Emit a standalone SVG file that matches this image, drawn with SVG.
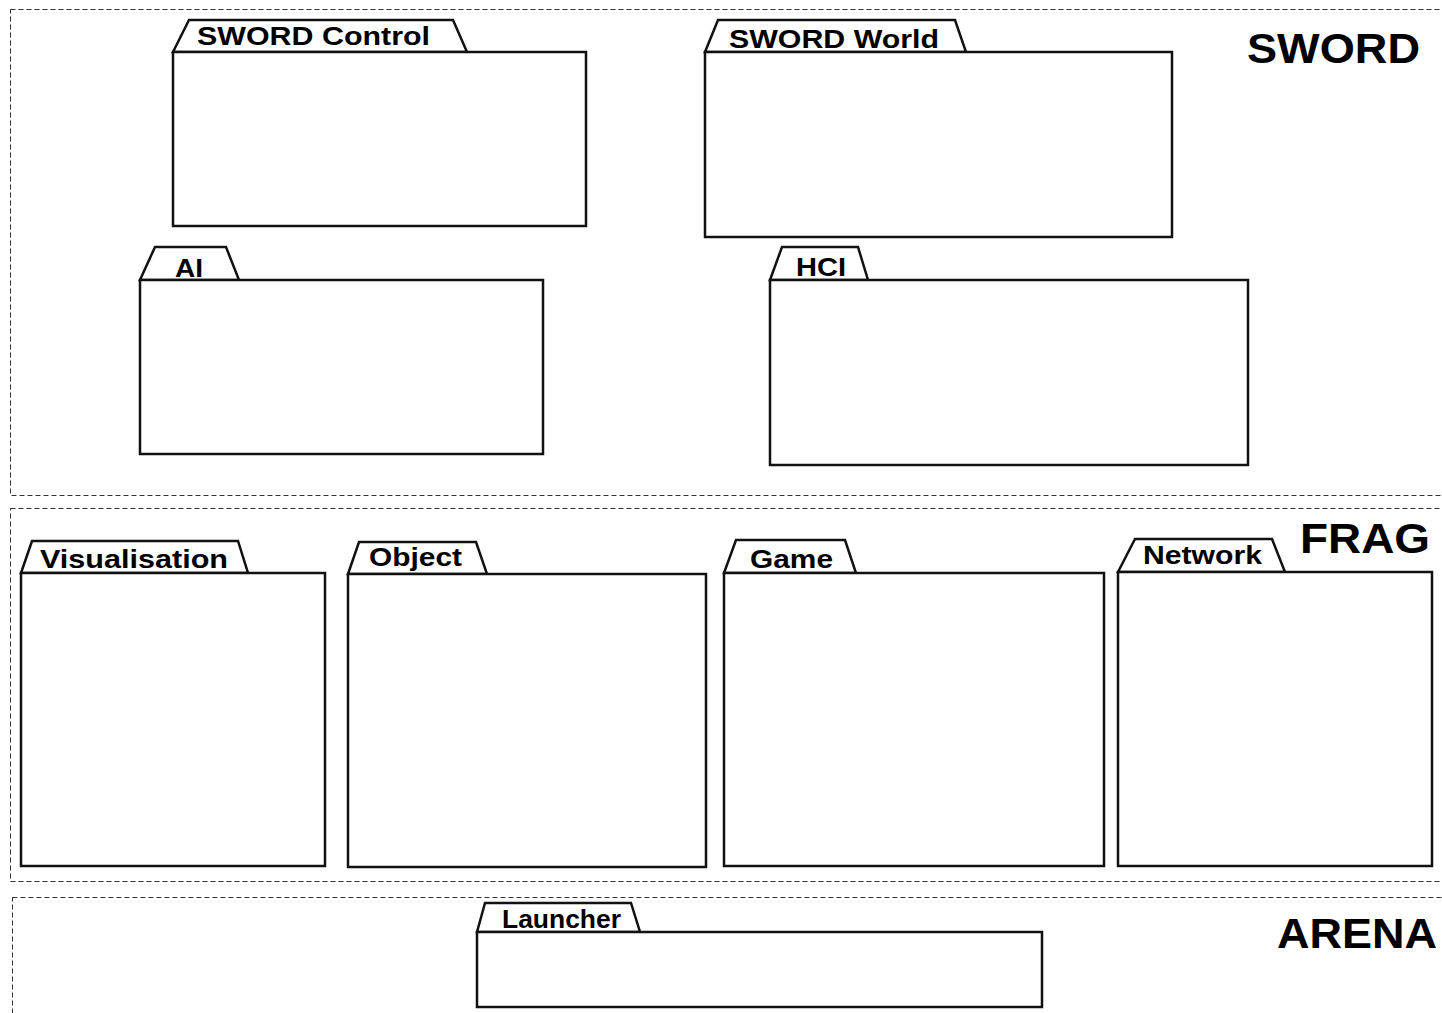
<svg xmlns="http://www.w3.org/2000/svg" width="1442" height="1013" viewBox="0 0 1442 1013">
<style>
.lane{fill:none;stroke:#333;stroke-width:1;stroke-dasharray:5 3}
.pk{fill:#fff;stroke:#111;stroke-width:2.5;stroke-linejoin:miter}
.lbl{font-family:"Liberation Sans",Arial,sans-serif;font-weight:bold;font-size:25px;fill:#000}
.big{font-family:"Liberation Sans",Arial,sans-serif;font-weight:bold;font-size:43px;fill:#000}
</style>
<rect width="1442" height="1013" fill="#fff"/>
<g id="lanes">
<rect id="lane-sword" class="lane" x="10.5" y="9.5" width="1440" height="486"/>
<rect id="lane-frag" class="lane" x="10.5" y="508.5" width="1440" height="373"/>
<rect id="lane-arena" class="lane" x="12.5" y="897.5" width="1440" height="130"/>
<text class="big" x="1247" y="63" textLength="173" lengthAdjust="spacingAndGlyphs">SWORD</text>
<text class="big" x="1300" y="553" textLength="130" lengthAdjust="spacingAndGlyphs">FRAG</text>
<text class="big" x="1277" y="948" textLength="160" lengthAdjust="spacingAndGlyphs">ARENA</text>
</g>
<g id="sword-control">
<polygon class="pk" points="173,52 189,20 453,20 467,52"/>
<rect class="pk" x="173" y="52" width="413" height="174"/>
<text class="lbl" x="197" y="45" textLength="233" lengthAdjust="spacingAndGlyphs">SWORD Control</text>
</g>
<g id="sword-world">
<polygon class="pk" points="705,52 718,20 955,20 966,52"/>
<rect class="pk" x="705" y="52" width="467" height="185"/>
<text class="lbl" x="729" y="48" textLength="210" lengthAdjust="spacingAndGlyphs">SWORD World</text>
</g>
<g id="ai">
<polygon class="pk" points="140,280 155,247 226,247 239,280"/>
<rect class="pk" x="140" y="280" width="403" height="174"/>
<text class="lbl" x="175" y="277" textLength="28" lengthAdjust="spacingAndGlyphs">AI</text>
</g>
<g id="hci">
<polygon class="pk" points="770,280 782,247 858,247 868,280"/>
<rect class="pk" x="770" y="280" width="478" height="185"/>
<text class="lbl" x="796" y="276" textLength="50" lengthAdjust="spacingAndGlyphs">HCI</text>
</g>
<g id="visualisation">
<polygon class="pk" points="21,573 32,541 238,541 248,573"/>
<rect class="pk" x="21" y="573" width="304" height="293"/>
<text class="lbl" x="40" y="568" textLength="188" lengthAdjust="spacingAndGlyphs">Visualisation</text>
</g>
<g id="object">
<polygon class="pk" points="348,574 359,542 476,542 487,574"/>
<rect class="pk" x="348" y="574" width="358" height="293"/>
<text class="lbl" x="369" y="566" textLength="93" lengthAdjust="spacingAndGlyphs">Object</text>
</g>
<g id="game">
<polygon class="pk" points="724,573 736,540 845,540 856,573"/>
<rect class="pk" x="724" y="573" width="380" height="293"/>
<text class="lbl" x="750" y="568" textLength="83" lengthAdjust="spacingAndGlyphs">Game</text>
</g>
<g id="network">
<polygon class="pk" points="1118,572 1135,539 1272,539 1285,572"/>
<rect class="pk" x="1118" y="572" width="314" height="294"/>
<text class="lbl" x="1143" y="564" textLength="119" lengthAdjust="spacingAndGlyphs">Network</text>
</g>
<g id="launcher">
<polygon class="pk" points="477,932 485,903 631,903 640,932"/>
<rect class="pk" x="477" y="932" width="565" height="75"/>
<text class="lbl" x="502" y="928" font-size="22" textLength="119" lengthAdjust="spacingAndGlyphs">Launcher</text>
</g>
<g id="connectors"></g>
</svg>
